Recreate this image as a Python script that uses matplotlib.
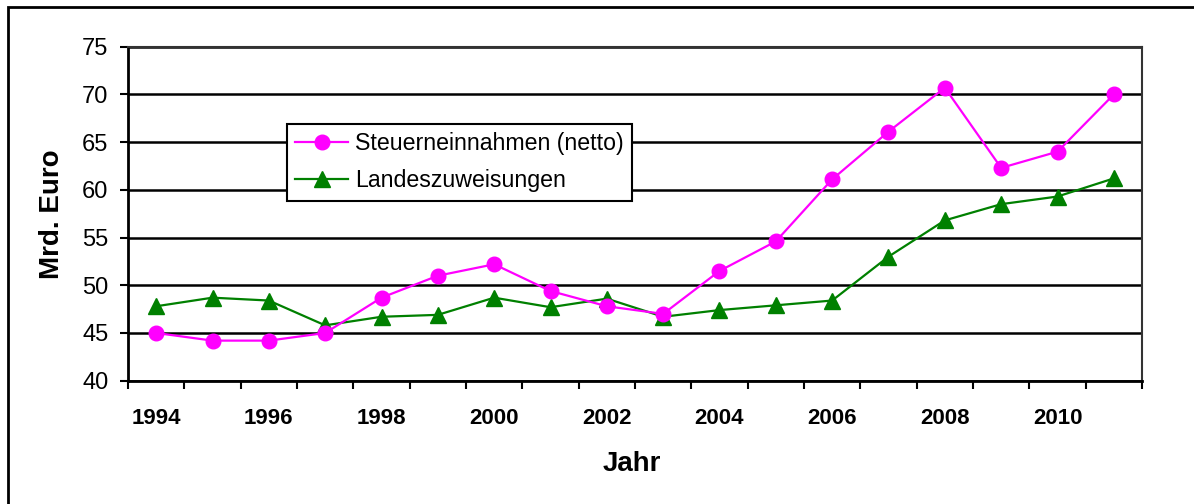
import matplotlib
matplotlib.use("Agg")
import matplotlib.pyplot as plt
from matplotlib.patches import Rectangle

years = list(range(1994, 2012))
steuer = [45.0, 44.2, 44.2, 45.0, 48.7, 51.0, 52.2, 49.4, 47.8, 47.0,
          51.5, 54.6, 61.1, 66.1, 70.7, 62.3, 64.0, 70.0]
landes = [47.8, 48.7, 48.4, 45.8, 46.7, 46.9, 48.7, 47.7, 48.6, 46.7,
          47.4, 47.9, 48.4, 53.0, 56.8, 58.5, 59.3, 61.2]
series_names = ["Steuerneinnahmen (netto)", "Landeszuweisungen"]
yticks = [40, 45, 50, 55, 60, 65, 70, 75]
xlabel_years = [y for y in years if y % 2 == 0]

plt.rcParams['font.family'] = ['Liberation Sans', 'DejaVu Sans']

W, H = 1194, 504
fig = plt.figure(figsize=(W / 100, H / 100), dpi=100)
fig.patch.set_facecolor('white')

left, right, top, bottom = 128, 1142, 46.7, 380.7
ax = fig.add_axes([left / W, 1 - bottom / H, (right - left) / W, (bottom - top) / H])

x = list(range(len(years)))
ax.plot(x, steuer, color='#FF00FF', lw=1.6, marker='o', ms=10.5,
        markeredgecolor='#FF00FF', markerfacecolor='#FF00FF', zorder=4, label=series_names[0])
ax.plot(x, landes, color='#008000', lw=1.6, marker='^', ms=11.5,
        markeredgecolor='#008000', markerfacecolor='#008000', zorder=3, label=series_names[1])

ax.set_xlim(-0.5, len(years) - 0.5)
ax.set_ylim(40, 75)
ax.set_yticks(yticks)
ax.set_yticklabels([str(v) for v in yticks], fontsize=17)
ax.tick_params(axis='y', direction='out', length=6, width=1.5, pad=8, color='black')

# category boundaries as major ticks, labels at category centers as minor ticks
ax.set_xticks([i - 0.5 for i in range(len(years) + 1)])
ax.set_xticklabels([])
ax.tick_params(axis='x', which='major', direction='out', length=6, width=1.5, color='black')
ax.set_xticks([years.index(y) for y in xlabel_years], minor=True)
ax.set_xticklabels([str(y) for y in xlabel_years], minor=True, fontsize=16, fontweight='bold')
ax.tick_params(axis='x', which='minor', length=0, pad=20)

for v in yticks:
    ax.axhline(v, color='black', lw=1.8, zorder=1)

for s in ['left', 'bottom']:
    ax.spines[s].set_linewidth(2)
    ax.spines[s].set_color('black')
for s in ['top', 'right']:
    ax.spines[s].set_linewidth(1.5)
    ax.spines[s].set_color('#333333')

fig.text(52 / W, 1 - 214 / H, "Mrd. Euro", rotation=90, ha='center', va='center',
         fontsize=20, fontweight='bold')
fig.text(632 / W, 1 - 464 / H, "Jahr", ha='center', va='center',
         fontsize=20, fontweight='bold')

leg = ax.legend(loc='upper left', bbox_to_anchor=(287 / W, 1 - 124 / H),
                bbox_transform=fig.transFigure, fontsize=16.7, frameon=True,
                fancybox=False, framealpha=1, edgecolor='black',
                borderpad=0.35, labelspacing=0.62, handlelength=2.3,
                handletextpad=0.3, borderaxespad=0)
leg.get_frame().set_linewidth(1.5)
leg.set_zorder(10)

fig.add_artist(Rectangle((8 / W, -0.1), 1.2, 1 - 7 / H + 0.1, transform=fig.transFigure,
                         fill=False, edgecolor='black', lw=2))

fig.savefig("out.png", dpi=100)
